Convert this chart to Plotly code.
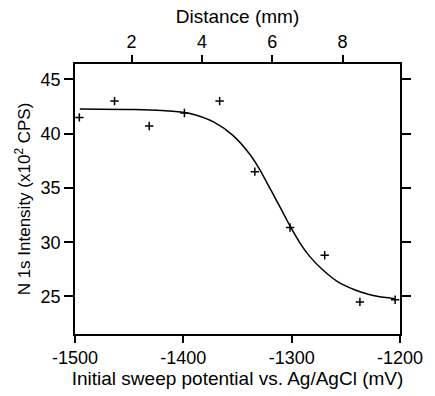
import plotly.graph_objects as go

# Measured data points
potential_mV = [-1496, -1463.5, -1431.5, -1399, -1366.5, -1334, -1301.5, -1269.5, -1237, -1204.5]
intensity = [41.5, 43.0, 40.7, 41.9, 43.0, 36.5, 31.35, 28.8, 24.5, 24.7]
distance_mm = [0.5, 1.5, 2.5, 3.5, 4.5, 5.5, 6.5, 7.5, 8.5, 9.5]

# Fitted curve
curve_mV = [-1495.6, -1445.4, -1420, -1399.1, -1389.4, -1371.7, -1354.0, -1339.2, -1330.4,
            -1318.6, -1309.7, -1300.9, -1292.0, -1283.2, -1271.4, -1256.6, -1241.9,
            -1230.1, -1221.2, -1205.0]
curve_int = [42.27, 42.22, 42.13, 41.95, 41.74, 41.06, 39.82, 38.17, 36.85,
             34.70, 33.04, 31.38, 29.87, 28.67, 27.46, 26.30, 25.62,
             25.22, 25.02, 24.80]

x_ticks = [-1500, -1400, -1300, -1200]
x_tick_labels = ["-1500", "-1400", "-1300", "-1200"]
y_ticks = [25, 30, 35, 40, 45]
top_ticks = [2, 4, 6, 8]

FAM = "Liberation Sans, Arial, sans-serif"
font = dict(family=FAM, size=18, color="black")
tfont = dict(family=FAM, size=19, color="black")
yfont = dict(family=FAM, size=17, color="black")

fig = go.Figure()
fig.add_trace(go.Scatter(x=curve_mV, y=curve_int, mode="lines",
                         line=dict(color="black", width=1.5, shape="spline", smoothing=0.8),
                         showlegend=False, hoverinfo="skip"))
fig.add_trace(go.Scatter(x=potential_mV, y=intensity, mode="markers",
                         marker=dict(symbol="cross-thin", size=6,
                                     line=dict(color="black", width=1.5)),
                         showlegend=False))
fig.add_trace(go.Scatter(x=distance_mm, y=intensity, mode="markers", xaxis="x2",
                         marker=dict(opacity=0), showlegend=False, hoverinfo="skip"))

axis_common = dict(showline=True, linecolor="black", linewidth=1.5, ticks="outside",
                   tickcolor="black", tickwidth=1.5, showgrid=False, zeroline=False,
                   tickfont=font, ticklabeloverflow="allow")

fig.update_layout(
    width=435, height=396,
    margin=dict(l=75, r=21, t=64, b=57),
    paper_bgcolor="white", plot_bgcolor="white",
    font=font,
    xaxis=dict(range=[-1500, -1200], tickvals=x_ticks, ticktext=x_tick_labels, ticklen=7,
               title=dict(text="Initial sweep potential vs. Ag/AgCl (mV)", font=tfont, standoff=2),
               **axis_common),
    xaxis2=dict(range=[0.39, 9.635], tickvals=top_ticks, ticklen=7, overlaying="x",
                side="top", title=dict(text="Distance (mm)", font=tfont, standoff=3),
                **axis_common),
    yaxis=dict(range=[21.54, 46.42], tickvals=y_ticks, ticklen=9, mirror="ticks",
               title=dict(text="N 1s Intensity (x10<sup>2</sup> CPS)", font=yfont, standoff=6),
               **axis_common),
)

fig.write_html("out.html")
